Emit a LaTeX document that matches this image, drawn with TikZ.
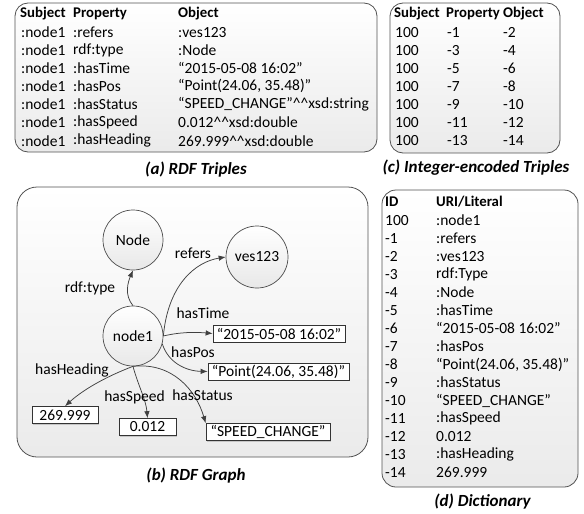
\documentclass[tikz,border=0pt]{standalone}
\usepackage{fontspec}
\setmainfont{Carlito}
\usetikzlibrary{arrows.meta,shadows}
\newcommand\crt{\textasciicircum\textasciicircum}
\begin{document}
\begin{tikzpicture}[x=1pt,y=-1pt,
  font=\fontsize{15.5}{18}\selectfont,
  panel/.style={draw=black!68, line width=0.8pt, top color=white, bottom color=black!8},
  cell/.style={anchor=west, inner sep=0pt},
  hdr/.style={cell, font=\fontsize{14.8}{18}\selectfont\bfseries},
  capt/.style={inner sep=0pt, font=\fontsize{17}{20}\selectfont\bfseries\itshape},
  circ/.style={circle, draw=black!70, line width=0.7pt, inner sep=0pt, top color=white, bottom color=black!9},
  lit/.style={draw=black!80, line width=0.7pt, fill=white, inner sep=0pt, minimum height=17pt,
    drop shadow={shadow xshift=1.2pt, shadow yshift=-1.2pt, opacity=0.35, fill=black!50}},
  arr/.style={draw=black!75, line width=0.75pt, -{Latex[length=7pt,width=5.5pt]}},
  lbl/.style={inner sep=0pt}]
\useasboundingbox (0,0) rectangle (584,514);
% panels
\draw[panel, rounded corners=13pt] (15,3) rectangle (377,152);
\draw[panel, rounded corners=13pt] (390,3) rectangle (560,153);
\draw[panel, rounded corners=20pt] (17,187) rectangle (368,457);
\draw[panel, rounded corners=14pt] (382,190) rectangle (578,487);
% table (a)
\node[hdr] (aS) at (20,14) {Subject};
\node[hdr] (aP) at (73,14) {Property};
\node[hdr] (aO) at (178,14) {Object};
\foreach \s/\p/\o [count=\i] in {:node1/:refers/:ves123, :node1/rdf:type/:Node,
  :node1/:hasTime/{“2015-05-08 16:02”}, :node1/:hasPos/{“Point(24.06, 35.48)”},
  :node1/:hasStatus/{“SPEED\_CHANGE”\crt xsd:string}, :node1/:hasSpeed/{0.012\crt xsd:double},
  :node1/:hasHeading/{269.999\crt xsd:double}}{
  \node[cell] (as\i) at (21,14+18.1*\i) {\s};
  \node[cell] (ap\i) at (73,14+18.1*\i) {\p};
  \node[cell] (ao\i) at (178,14+18.1*\i) {\o};
}
% table (c)
\node[hdr] (cS) at (394,14) {Subject};
\node[hdr] (cP) at (446,14) {Property};
\node[hdr] (cO) at (503,14) {Object};
\foreach \p/\o [count=\i] in {-1/-2, -3/-4, -5/-6, -7/-8, -9/-10, -11/-12, -13/-14}{
  \node[cell] (cs\i) at (395,14+18.1*\i) {100};
  \node[cell] (cp\i) at (447,14+18.1*\i) {\p};
  \node[cell] (co\i) at (503,14+18.1*\i) {\o};
}
% dictionary (d)
\node[hdr] (dI) at (385,202) {ID};
\node[hdr] (dU) at (436,202) {URI/Literal};
\foreach \k/\v [count=\i] in {100/:node1, -1/:refers, -2/:ves123, -3/rdf:Type, -4/:Node,
  -5/:hasTime, -6/{“2015-05-08 16:02”}, -7/:hasPos, -8/{“Point(24.06, 35.48)”},
  -9/:hasStatus, -10/{“SPEED\_CHANGE”}, -11/:hasSpeed, -12/0.012, -13/:hasHeading, -14/269.999}{
  \node[cell] (dk\i) at (385,202+18.05*\i) {\k};
  \node[cell] (dv\i) at (436,202+18.05*\i) {\v};
}
% captions
\node[capt] (capa) at (196,170) {(a) RDF Triples};
\node[capt] (capc) at (476,168) {(c) Integer-encoded Triples};
\node[capt] (capb) at (196,476) {(b) RDF Graph};
\node[capt] (capd) at (482.5,502) {(d) Dictionary};
% graph
\node[circ, minimum size=60pt] (Node) at (133,240) {Node};
\node[circ, minimum size=62pt] (ves) at (257,257) {ves123};
\node[circ, minimum size=60pt] (node1) at (133,336) {node1};
\node[lit, minimum width=132pt] (t1) at (279,333.5) {“2015-05-08 16:02”};
\node[lit, minimum width=141pt] (t2) at (278.5,371.5) {“Point(24.06, 35.48)”};
\node[lit, minimum width=124pt] (t3) at (268,432) {“SPEED\_CHANGE”};
\node[lit, minimum width=66pt] (t4) at (65,415) {269.999};
\node[lit, minimum width=57pt] (t5) at (147.5,427) {0.012};
% edges
\draw[arr] (node1.north) .. controls (124,295) and (128,282) .. (Node.south);
\draw[arr] (node1.east) .. controls (168,285) and (195,262) .. (ves.west);
\draw[arr] (node1.east) .. controls (180,332) and (195,332) .. (t1.west);
\draw[arr] (node1.-15) .. controls (168,362) and (185,371) .. (t2.west);
\draw[arr] (node1.south) .. controls (172,362) and (196,390) .. (t3.north west);
\draw[arr] (node1.south) .. controls (138,385) and (146,400) .. (t5.north);
\draw[arr] (node1.south) .. controls (110,375) and (85,388) .. (t4.north);
% edge labels
\node[lbl] (lType) at (90,288) {rdf:type};
\node[lbl] (lRef) at (193,253) {refers};
\node[lbl] (lTime) at (203,313) {hasTime};
\node[lbl] (lPos) at (193,352) {hasPos};
\node[lbl] (lStat) at (202.5,395) {hasStatus};
\node[lbl] (lSpd) at (134.5,397) {hasSpeed};
\node[lbl] (lHead) at (72,370) {hasHeading};
\end{tikzpicture}
\end{document}
